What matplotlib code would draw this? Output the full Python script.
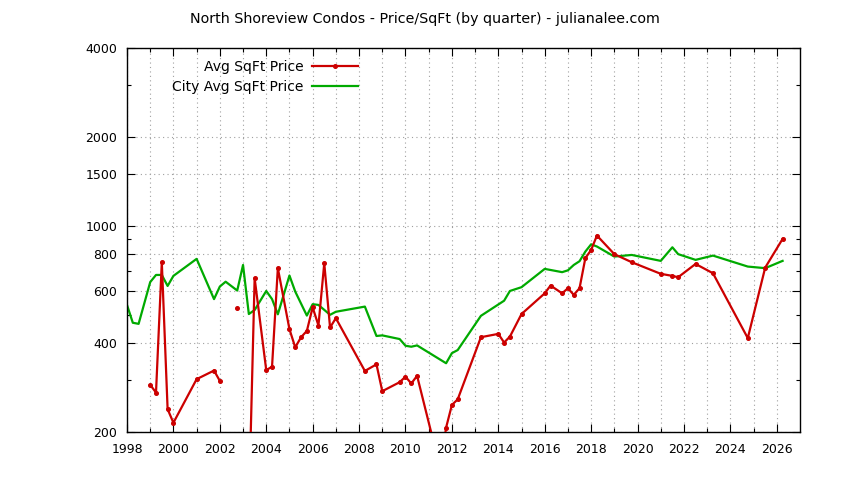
import numpy as np
import matplotlib
matplotlib.use("Agg")
import matplotlib.pyplot as plt
from matplotlib.ticker import FixedLocator, NullFormatter

# North Shoreview condos, avg price per sqft by quarter (nan = gap in the line)
red_year = [1999.0, 1999.25, 1999.5, 1999.75, 2000.0, 2001.0, 2001.75, 2002.0,
            2002.5, 2002.75, 2003.0, 2003.25, 2003.5, 2004.0, 2004.25, 2004.5,
            2005.0, 2005.25, 2005.5, 2005.75, 2006.0, 2006.25, 2006.5, 2006.75,
            2007.0, 2008.25, 2008.75, 2009.0, 2009.75, 2010.0, 2010.25, 2010.5,
            2011.5, 2011.75, 2012.0, 2012.25, 2013.25, 2014.0, 2014.25, 2014.5,
            2015.0, 2016.0, 2016.25, 2016.75, 2017.0, 2017.25, 2017.5, 2017.75,
            2018.0, 2018.25, 2019.0, 2019.75, 2021.0, 2021.5, 2021.75, 2022.5,
            2023.25, 2024.75, 2025.5, 2026.25]
red_price = [289, 272, 752, 239, 215, 302, 323, 298,
             np.nan, 525, np.nan, 110, 664, 324, 333, 718,
             446, 387, 419, 440, 529, 459, 746, 452,
             486, 322, 339, 275, 295, 308, 292, 310,
             150, 207, 247, 258, 419, 430, 402, 421,
             502, 590, 627, 590, 614, 583, 614, 776,
             828, 926, 801, 752, 687, 676, 669, 742,
             690, 416, 721, 902]

# city average
city_year = [1998.0, 1998.25, 1998.5, 1999.0, 1999.25, 1999.5, 1999.75, 2000.0,
             2001.0, 2001.75, 2002.0, 2002.25, 2002.75, 2003.0, 2003.25, 2003.5,
             2004.0, 2004.25, 2004.5, 2005.0, 2005.25, 2005.75, 2006.0, 2006.25,
             2006.75, 2007.0, 2008.25, 2008.75, 2009.0, 2009.75, 2010.0, 2010.25,
             2010.5, 2011.75, 2012.0, 2012.25, 2013.25, 2014.25, 2014.5, 2015.0,
             2016.0, 2016.75, 2017.0, 2017.25, 2017.5, 2017.75, 2018.0, 2018.25,
             2019.0, 2019.75, 2021.0, 2021.5, 2021.75, 2022.5, 2023.25, 2024.75,
             2025.5, 2026.25]
city_price = [539, 469, 465, 644, 681, 681, 625, 676,
              772, 564, 622, 646, 603, 736, 502, 518,
              601, 564, 501, 678, 598, 496, 542, 539,
              499, 511, 532, 423, 425, 413, 392, 389,
              393, 342, 370, 379, 495, 557, 601, 619,
              714, 696, 706, 736, 758, 817, 865, 850,
              786, 796, 760, 845, 801, 766, 792, 727,
              718, 760]

ytick_vals = [200, 400, 600, 800, 1000, 1500, 2000, 4000]
ytick_minor = [300, 500, 700, 900, 3000]
xtick_vals = list(range(1998, 2027, 2))

plt.rcParams['font.family'] = ['DejaVu Sans']
fig = plt.figure(figsize=(8.44, 4.8), dpi=100)
ax = fig.add_axes([127/844, 48/480, 673/844, 384/480])

ax.plot(red_year, red_price, color='#cc0000', lw=1.6, marker='o', ms=2.6,
        label='Avg SqFt Price', zorder=3)
ax.plot(city_year, city_price, color='#00aa00', lw=1.6, label='City Avg SqFt Price',
        zorder=2)

ax.set_yscale('log')
ax.set_ylim(200, 4000)
ax.set_xlim(1998, 2027)
ax.yaxis.set_major_locator(FixedLocator(ytick_vals))
ax.yaxis.set_minor_locator(FixedLocator(ytick_minor))
ax.set_yticklabels([str(v) for v in ytick_vals])
ax.yaxis.set_minor_formatter(NullFormatter())
ax.set_xticks(xtick_vals)
ax.set_xticklabels([str(v) for v in xtick_vals])
ax.set_xticks(range(1999, 2027, 2), minor=True)

ax.tick_params(which='both', direction='in', top=True, right=True, labelsize=9,
               width=0.8, color='black')
ax.tick_params(which='major', length=6)
ax.tick_params(which='minor', length=3)
ax.tick_params(axis='x', which='major', pad=8)
ax.tick_params(axis='y', which='major', pad=7)
ax.grid(True, which='major', axis='y', color='#a0a0a0', ls=(0, (1, 3)), lw=0.8)
ax.grid(True, which='both', axis='x', color='#a0a0a0', ls=(0, (1, 3)), lw=0.8)
for s in ax.spines.values():
    s.set_linewidth(1.0)

ax.legend(loc='upper right', bbox_to_anchor=((358 - 127) / 673, 1 - 12 / 384),
          frameon=False, markerfirst=False, fontsize=10, handlelength=3.3,
          borderaxespad=0, borderpad=0, labelspacing=0.42, handletextpad=0.6)
leg = ax.get_legend()
for t in leg.get_texts():
    t.set_ha('right')
leg._legend_box.align = 'right'

fig.text(425 / 844, 1 - 19 / 480,
         'North Shoreview Condos - Price/SqFt (by quarter) - julianalee.com',
         ha='center', va='center', fontsize=10.3)

fig.savefig('out.png', dpi=100)
